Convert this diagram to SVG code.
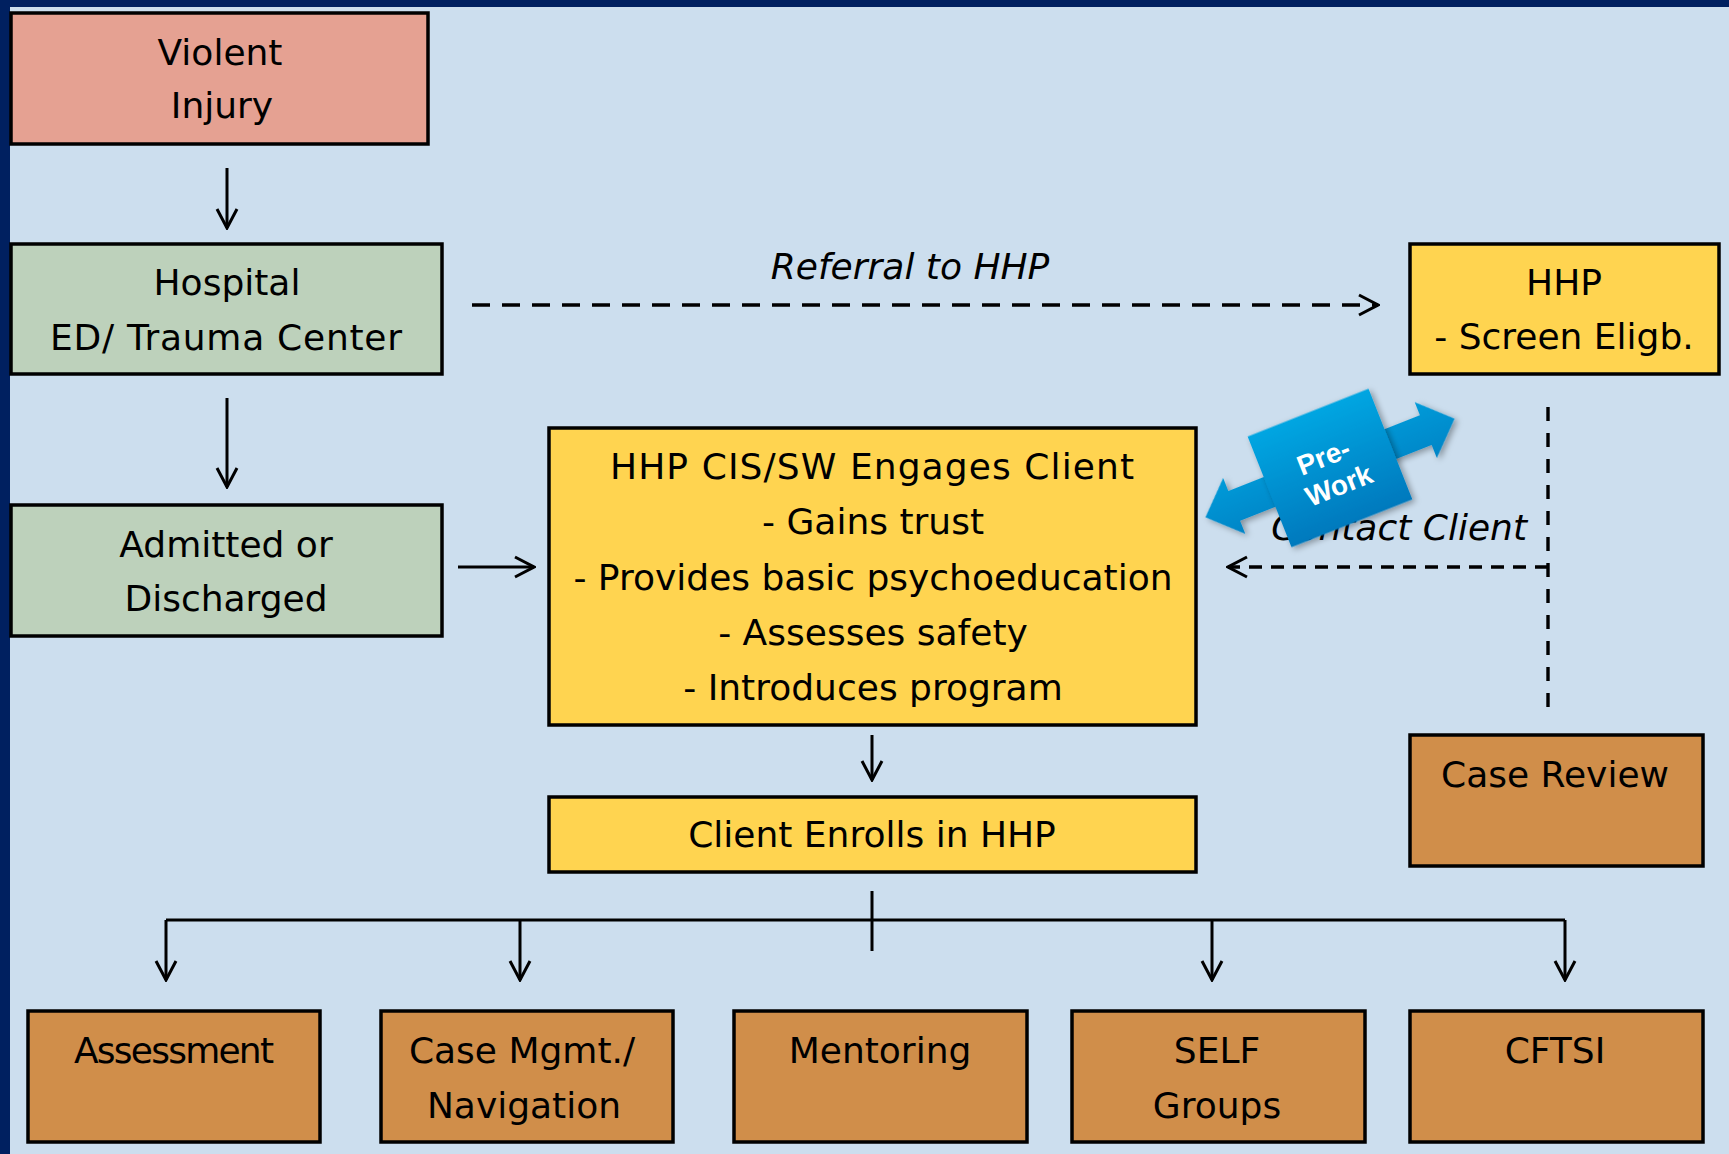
<svg xmlns="http://www.w3.org/2000/svg" width="1729" height="1154" viewBox="0 0 1729 1154">
  <defs>
    <style>
      .box { stroke: #000; stroke-width: 3.5; }
      .pink { fill: #e5a192; }
      .green { fill: #bdd1bb; }
      .yellow { fill: #ffd450; }
      .brown { fill: #d08e4a; }
      .lbl { font-family: "DejaVu Sans", "Liberation Sans", sans-serif; font-size: 36px; fill: #000; text-anchor: middle; }
      .ital { font-style: italic; }
      .conn { stroke: #000; stroke-width: 3; fill: none; }
      .dashed { stroke-width: 3.4; }
      .dash-long { stroke-dasharray: 18 12; }
      .dash-short { stroke-dasharray: 13 9; }
      .dash-vert { stroke-dasharray: 14 12; }
      .pw { font-family: "Liberation Sans", Arial, sans-serif; font-weight: bold; font-size: 28px; fill: #fff; text-anchor: middle; }
    </style>
    <marker id="head" viewBox="-22 -12 24 24" markerWidth="24" markerHeight="24" refX="0" refY="0" orient="auto" markerUnits="userSpaceOnUse">
      <path d="M -19 -10 L 0 0 L -19 10" fill="none" stroke="#000" stroke-width="3"/>
    </marker>
    <linearGradient id="blueGrad" gradientUnits="userSpaceOnUse" x1="0" y1="-60" x2="0" y2="60">
      <stop offset="0" stop-color="#00a6e2"/>
      <stop offset="1" stop-color="#0079bd"/>
    </linearGradient>
    <filter id="shadow" x="-30%" y="-30%" width="160%" height="160%">
      <feDropShadow dx="2" dy="3" stdDeviation="3" flood-color="#000" flood-opacity="0.35"/>
    </filter>
  </defs>

  <!-- backdrop and frame -->
  <rect x="0" y="0" width="1729" height="1154" fill="#ccdeee"/>
  <rect x="0" y="0" width="10" height="1154" fill="#002060"/>
  <rect x="0" y="0" width="1729" height="7" fill="#002060"/>

  <!-- connectors -->
  <g id="connectors">
    <line class="conn" x1="227" y1="168" x2="227" y2="228" marker-end="url(#head)"/>
    <line class="conn" x1="227" y1="398" x2="227" y2="487" marker-end="url(#head)"/>
    <line class="conn" x1="458" y1="567" x2="534" y2="567" marker-end="url(#head)"/>
    <line class="conn dashed dash-long" x1="472" y1="305" x2="1378" y2="305" marker-end="url(#head)"/>
    <line class="conn dashed dash-vert" x1="1548" y1="407" x2="1548" y2="707"/>
    <line class="conn dashed dash-short" x1="1548" y1="567" x2="1228" y2="567" marker-end="url(#head)"/>
    <line class="conn" x1="872" y1="735" x2="872" y2="780" marker-end="url(#head)"/>
    <!-- branch to the five service boxes -->
    <line class="conn" x1="872" y1="891" x2="872" y2="951"/>
    <line class="conn" x1="166" y1="920" x2="1565" y2="920"/>
    <line class="conn" x1="166" y1="920" x2="166" y2="980" marker-end="url(#head)"/>
    <line class="conn" x1="520" y1="920" x2="520" y2="980" marker-end="url(#head)"/>
    <line class="conn" x1="1212" y1="920" x2="1212" y2="980" marker-end="url(#head)"/>
    <line class="conn" x1="1565" y1="920" x2="1565" y2="980" marker-end="url(#head)"/>
    <text class="lbl ital" x="910" y="279">Referral to HHP</text>
    <text class="lbl ital" x="1527" y="540" style="text-anchor:end">Contact Client</text>
  </g>

  <g id="violent-injury">
    <rect class="box pink" x="11" y="13" width="417" height="131"/>
    <text class="lbl" x="220" y="65">Violent</text>
    <text class="lbl" x="222" y="118">Injury</text>
  </g>

  <g id="hospital">
    <rect class="box green" x="11" y="244" width="431" height="130"/>
    <text class="lbl" x="227" y="295">Hospital</text>
    <text class="lbl" x="226" y="350" textLength="352">ED/ Trauma Center</text>
  </g>

  <g id="admitted">
    <rect class="box green" x="11" y="505" width="431" height="131"/>
    <text class="lbl" x="226" y="557">Admitted or</text>
    <text class="lbl" x="226" y="611">Discharged</text>
  </g>

  <g id="hhp-screen">
    <rect class="box yellow" x="1410" y="244" width="309" height="130"/>
    <text class="lbl" x="1564" y="295">HHP</text>
    <text class="lbl" x="1564" y="349">- Screen Eligb.</text>
  </g>

  <g id="engages-client">
    <rect class="box yellow" x="549" y="428" width="647" height="297"/>
    <text class="lbl" x="872" y="479" textLength="524">HHP CIS/SW Engages Client</text>
    <text class="lbl" x="873" y="534">- Gains trust</text>
    <text class="lbl" x="873" y="590">- Provides basic psychoeducation</text>
    <text class="lbl" x="873" y="645">- Assesses safety</text>
    <text class="lbl" x="873" y="700">- Introduces program</text>
  </g>

  <g id="client-enrolls">
    <rect class="box yellow" x="549" y="797" width="647" height="75"/>
    <text class="lbl" x="872" y="847">Client Enrolls in HHP</text>
  </g>

  <g id="case-review">
    <rect class="box brown" x="1410" y="735" width="293" height="131"/>
    <text class="lbl" x="1555" y="787">Case Review</text>
  </g>

  <g id="assessment">
    <rect class="box brown" x="28" y="1011" width="292" height="131"/>
    <text class="lbl" x="174" y="1063" textLength="200">Assessment</text>
  </g>

  <g id="case-mgmt">
    <rect class="box brown" x="381" y="1011" width="292" height="131"/>
    <text class="lbl" x="522" y="1063">Case Mgmt./</text>
    <text class="lbl" x="524" y="1118">Navigation</text>
  </g>

  <g id="mentoring">
    <rect class="box brown" x="734" y="1011" width="293" height="131"/>
    <text class="lbl" x="880" y="1063">Mentoring</text>
  </g>

  <g id="self-groups">
    <rect class="box brown" x="1072" y="1011" width="293" height="131"/>
    <text class="lbl" x="1217" y="1063">SELF</text>
    <text class="lbl" x="1217" y="1118">Groups</text>
  </g>

  <g id="cftsi">
    <rect class="box brown" x="1410" y="1011" width="293" height="131"/>
    <text class="lbl" x="1555" y="1063">CFTSI</text>
  </g>

  <!-- tilted double-headed callout drawn over the return path -->
  <g id="pre-work" transform="translate(1330,468) rotate(-21.6)">
    <path d="M -134 0 L -103 -30 L -103 -16 L 103 -16 L 103 -30 L 134 0 L 103 30 L 103 16 L -103 16 L -103 30 Z" fill="url(#blueGrad)" filter="url(#shadow)"/>
    <rect x="-65" y="-59.5" width="130" height="119" fill="url(#blueGrad)" filter="url(#shadow)"/>
    <text class="pw" x="-2" y="-3">Pre-</text>
    <text class="pw" x="2" y="29">Work</text>
  </g>
</svg>
